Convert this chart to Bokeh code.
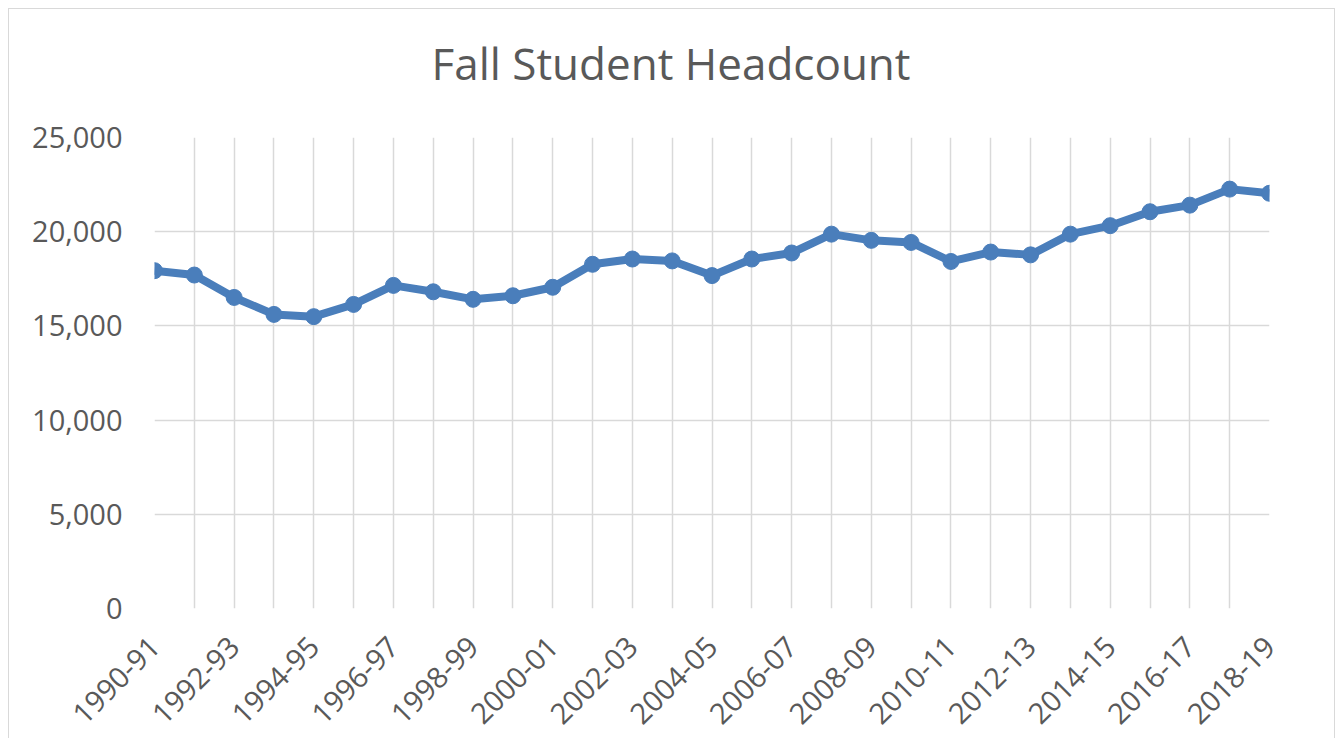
import math
from bokeh.plotting import figure
from bokeh.models import FixedTicker, NumeralTickFormatter, Range1d, Title
from bokeh.embed import file_html
from bokeh.resources import INLINE

years = ["1990-91", "1991-92", "1992-93", "1993-94", "1994-95", "1995-96", "1996-97",
         "1997-98", "1998-99", "1999-00", "2000-01", "2001-02", "2002-03", "2003-04",
         "2004-05", "2005-06", "2006-07", "2007-08", "2008-09", "2009-10", "2010-11",
         "2011-12", "2012-13", "2013-14", "2014-15", "2015-16", "2016-17", "2017-18",
         "2018-19"]
headcount = [17930, 17700, 16510, 15610, 15490, 16140, 17150, 16810, 16410, 16600,
             17050, 18270, 18550, 18450, 17670, 18550, 18870, 19870, 19540, 19430,
             18420, 18920, 18770, 19870, 20320, 21060, 21410, 22260, 22040]
y_ticks = [0, 5000, 10000, 15000, 20000, 25000]

xs = list(range(len(years)))
TEXT = "#595959"
BLUE = "#4a7ebb"
GRID = "#d9d9d9"
FONT = "Open Sans"

p = figure(width=1327, height=730, output_backend="svg", toolbar_location=None,
           x_range=Range1d(0, len(years) - 1), y_range=Range1d(0, 25000))
p.min_border_left = 145
p.min_border_right = 67
p.min_border_top = 128
p.min_border_bottom = 131
p.styles = {"margin-left": "8px", "margin-top": "8px",
            "border-top": "1px solid #d9d9d9", "border-left": "1px solid #d9d9d9",
            "border-right": "1px solid #d9d9d9"}
p.outline_line_color = None

# spacer between the frame and the chart title
spacer = Title(text=" ", text_font=FONT, text_font_size="10px", standoff=27)
p.add_layout(spacer, "above")
main_title = Title(text="Fall Student Headcount", text_font=FONT, text_font_size="44px",
                   text_font_style="normal", text_color=TEXT, align="left", offset=277,
                   vertical_align="top", standoff=0)
p.add_layout(main_title, "above")

p.xaxis.ticker = FixedTicker(ticks=xs)
p.xaxis.major_label_overrides = {i: (years[i] if i % 2 == 0 else "") for i in xs}
p.xaxis.major_label_orientation = math.pi / 4
p.yaxis.ticker = FixedTicker(ticks=y_ticks)
p.yaxis.formatter = NumeralTickFormatter(format="0,0")
for ax in (p.xaxis[0], p.yaxis[0]):
    ax.axis_line_color = None
    ax.major_tick_line_color = None
    ax.minor_tick_line_color = None
    ax.major_label_text_font = FONT
    ax.major_label_text_font_size = "29px"
    ax.major_label_text_color = TEXT
p.xaxis.major_label_standoff = 27
p.yaxis.major_label_standoff = 26

for g in (p.xgrid[0], p.ygrid[0]):
    g.grid_line_color = GRID
    g.grid_line_width = 1.5

p.line(xs, headcount, line_color=BLUE, line_width=8, line_join="round")
p.scatter(xs, headcount, size=16, fill_color=BLUE, line_color=BLUE)

open("out.html", "w").write(file_html(p, INLINE))
